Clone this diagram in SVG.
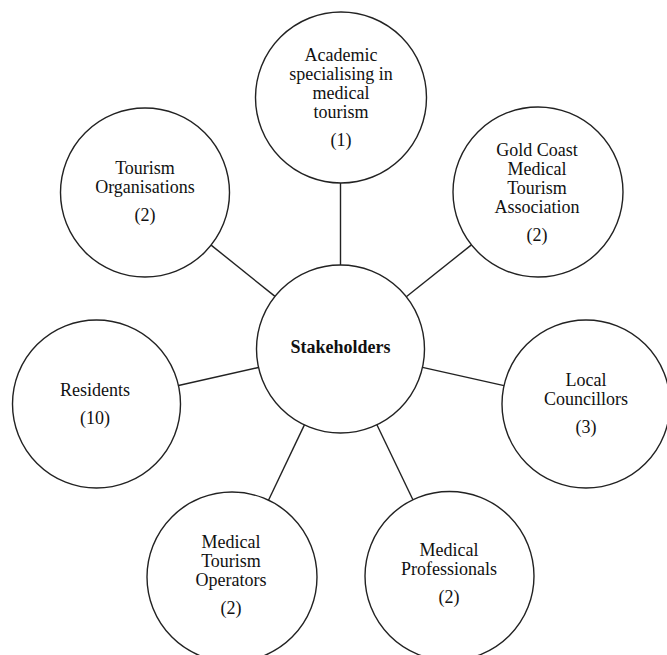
<svg xmlns="http://www.w3.org/2000/svg" width="667" height="655" viewBox="0 0 667 655">
<style>
.node circle{fill:#fff;stroke:#222;stroke-width:1.4}
.conn line{stroke:#222;stroke-width:1.4}
text{font-family:"Liberation Serif","Times New Roman",serif;font-size:18px;fill:#111;text-anchor:middle}
.b{font-weight:bold}
</style>
<rect width="667" height="655" fill="#fff"/>
<g id="connectors" class="conn">
<line x1="340.5" y1="183" x2="340.5" y2="265"/>
<line x1="210.5" y1="244.6" x2="275" y2="296.4"/>
<line x1="471.4" y1="244.9" x2="406.3" y2="296.7"/>
<line x1="178.5" y1="385.5" x2="258.5" y2="367.5"/>
<line x1="504" y1="385.6" x2="422.5" y2="367.4"/>
<line x1="268.5" y1="500.2" x2="304.4" y2="424.9"/>
<line x1="412.9" y1="499.8" x2="376.9" y2="424.7"/>
</g>
<g id="stakeholders" class="node">
<circle cx="340.5" cy="349" r="84"/>
<text x="340.5" y="353" class="b">Stakeholders</text>
</g>
<g id="academic" class="node">
<circle cx="341" cy="97.5" r="85.5"/>
<text x="341" y="61">Academic</text>
<text x="341" y="80">specialising in</text>
<text x="341" y="99">medical</text>
<text x="341" y="118">tourism</text>
<text x="341" y="146">(1)</text>
</g>
<g id="tourism-organisations" class="node">
<circle cx="145" cy="192.5" r="84.5"/>
<text x="145" y="174">Tourism</text>
<text x="145" y="193">Organisations</text>
<text x="145" y="221">(2)</text>
</g>
<g id="gold-coast" class="node">
<circle cx="538" cy="192" r="85"/>
<text x="537" y="156">Gold Coast</text>
<text x="537" y="175">Medical</text>
<text x="537" y="194">Tourism</text>
<text x="537" y="213">Association</text>
<text x="537" y="241">(2)</text>
</g>
<g id="residents" class="node">
<circle cx="96.5" cy="404" r="84"/>
<text x="95" y="396">Residents</text>
<text x="95" y="424">(10)</text>
</g>
<g id="local-councillors" class="node">
<circle cx="586" cy="404" r="84"/>
<text x="586" y="386">Local</text>
<text x="586" y="405">Councillors</text>
<text x="586" y="433">(3)</text>
</g>
<g id="medical-tourism-operators" class="node">
<circle cx="232" cy="577" r="85"/>
<text x="231" y="548">Medical</text>
<text x="231" y="567">Tourism</text>
<text x="231" y="586">Operators</text>
<text x="231" y="614">(2)</text>
</g>
<g id="medical-professionals" class="node">
<circle cx="449.5" cy="576" r="84.5"/>
<text x="449" y="556">Medical</text>
<text x="449" y="575">Professionals</text>
<text x="449" y="603">(2)</text>
</g>
</svg>
